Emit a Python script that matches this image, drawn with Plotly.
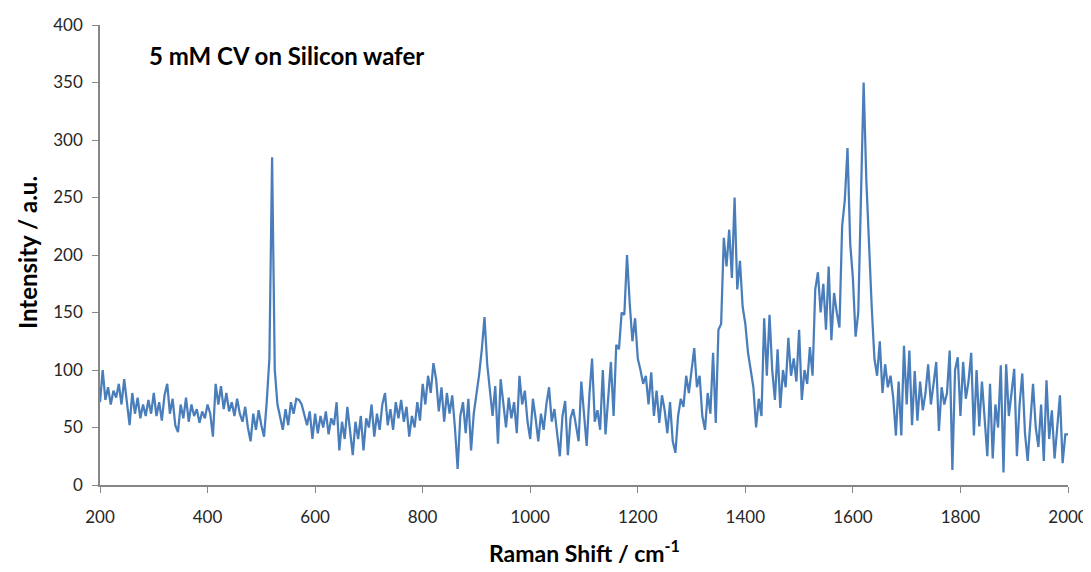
import plotly.graph_objects as go

# Raman shift axis (cm^-1), 5 cm^-1 sampling
shift = list(range(200, 2001, 5))

# Intensity values, per 100 cm^-1 segment
seg_200 = [72, 100, 74, 85, 70, 82, 76, 88, 70, 92, 72, 52, 80, 62, 76, 58, 70, 60, 74, 62]
seg_300 = [80, 60, 72, 56, 78, 88, 62, 75, 52, 46, 70, 58, 76, 55, 70, 60, 66, 54, 64, 58]
seg_400 = [70, 62, 42, 88, 70, 86, 66, 80, 64, 72, 60, 75, 62, 55, 68, 50, 38, 62, 48, 65]
seg_500 = [52, 42, 72, 110, 285, 100, 70, 58, 48, 66, 52, 72, 62, 75, 74, 70, 62, 52, 64, 40]
seg_600 = [62, 45, 60, 50, 64, 44, 58, 52, 72, 30, 55, 40, 68, 48, 26, 55, 40, 60, 30, 58]
seg_700 = [50, 70, 42, 62, 48, 70, 80, 52, 66, 48, 72, 58, 74, 55, 68, 42, 60, 50, 72, 56]
seg_800 = [88, 70, 95, 80, 106, 92, 64, 85, 55, 80, 62, 78, 50, 14, 60, 72, 45, 75, 30, 62]
seg_900 = [78, 96, 118, 146, 105, 80, 60, 86, 36, 92, 70, 50, 76, 58, 72, 45, 95, 70, 82, 55]
seg_1000 = [40, 75, 58, 38, 62, 48, 70, 85, 55, 66, 45, 25, 60, 73, 26, 58, 66, 50, 38, 90]
seg_1100 = [60, 34, 78, 110, 55, 65, 48, 100, 44, 80, 107, 60, 122, 118, 150, 148, 200, 158, 125, 145]
seg_1200 = [110, 100, 88, 95, 70, 98, 60, 82, 54, 78, 65, 45, 72, 38, 28, 60, 75, 68, 95, 80]
seg_1300 = [100, 119, 85, 95, 60, 48, 80, 62, 115, 54, 135, 140, 215, 190, 222, 180, 250, 170, 195, 155]
seg_1400 = [140, 115, 100, 85, 50, 75, 60, 145, 95, 148, 100, 74, 118, 67, 100, 85, 128, 95, 110, 90]
seg_1500 = [135, 74, 100, 88, 120, 95, 170, 185, 150, 175, 135, 190, 126, 167, 150, 137, 225, 248, 293, 210]
seg_1600 = [180, 129, 150, 240, 350, 265, 205, 155, 110, 95, 125, 80, 105, 85, 95, 76, 43, 90, 43, 121]
seg_1700 = [70, 117, 52, 99, 56, 90, 65, 80, 105, 70, 88, 107, 47, 85, 70, 80, 117, 13, 100, 111]
seg_1800 = [60, 107, 75, 90, 115, 43, 100, 51, 90, 60, 25, 88, 23, 70, 50, 104, 11, 105, 60, 80]
seg_1900 = [101, 25, 70, 97, 45, 21, 60, 88, 50, 33, 70, 21, 91, 40, 65, 23, 50, 78, 19, 44, 44]

intensity = (seg_200 + seg_300 + seg_400 + seg_500 + seg_600 + seg_700 + seg_800
             + seg_900 + seg_1000 + seg_1100 + seg_1200 + seg_1300 + seg_1400
             + seg_1500 + seg_1600 + seg_1700 + seg_1800 + seg_1900)

x_ticks = list(range(200, 2001, 200))
y_ticks = list(range(0, 401, 50))

FONT = "Lato, Calibri, Carlito, sans-serif"
AXIS_GREY = "#868686"

fig = go.Figure()
fig.add_trace(go.Scatter(
    x=shift, y=intensity, mode="lines",
    line=dict(color="#4a7ebb", width=2.25),
    showlegend=False, hoverinfo="x+y",
))

# page body has an 8px default margin; compensate so the plot area sits at
# x 100..1068, y 25..485 in the 1091x572 window
OFF = 8
W, H = 1091 - OFF, 572 - OFF
L, R, T, B = 100 - OFF, 23, 25 - OFF, 87
pw = W - L - R
ph = H - T - B


def px_x(px):
    return (px - OFF - L) / pw


def px_y(py):
    return 1 - (py - OFF - T) / ph


fig.update_layout(
    width=W, height=H,
    margin=dict(l=L, r=R, t=T, b=B, pad=0, autoexpand=False),
    paper_bgcolor="white", plot_bgcolor="white",
    font=dict(family=FONT, size=17, color="#262626"),
    xaxis=dict(
        range=[200, 2000], tickvals=x_ticks, ticks="outside", ticklen=6,
        tickcolor=AXIS_GREY, showline=True, linecolor=AXIS_GREY, linewidth=1.5,
        showgrid=False, zeroline=False, ticklabelstandoff=10, automargin=False,
        tickfont=dict(family=FONT, size=17, color="#262626"),
    ),
    yaxis=dict(
        range=[0, 400], tickvals=y_ticks, ticks="outside", ticklen=6,
        tickcolor=AXIS_GREY, showline=True, linecolor=AXIS_GREY, linewidth=1.5,
        showgrid=False, zeroline=False, ticklabelstandoff=6, automargin=False,
        tickfont=dict(family=FONT, size=17, color="#262626"),
    ),
    annotations=[
        dict(text="<b>5 mM CV on Silicon wafer</b>", xref="paper", yref="paper",
             x=px_x(147), y=px_y(56), xanchor="left", yanchor="middle",
             showarrow=False, font=dict(family=FONT, size=24, color="black")),
        dict(text="<b>Raman Shift / cm<sup>-1</sup></b>", xref="paper", yref="paper",
             x=px_x(584), y=px_y(551), xanchor="center", yanchor="middle",
             showarrow=False, font=dict(family=FONT, size=23, color="black")),
        dict(text="<b>Intensity / a.u.</b>", xref="paper", yref="paper",
             x=px_x(27), y=px_y(253),
             xanchor="center", yanchor="middle", textangle=-90,
             showarrow=False, font=dict(family=FONT, size=24, color="black")),
    ],
)

fig.write_html("out.html")
